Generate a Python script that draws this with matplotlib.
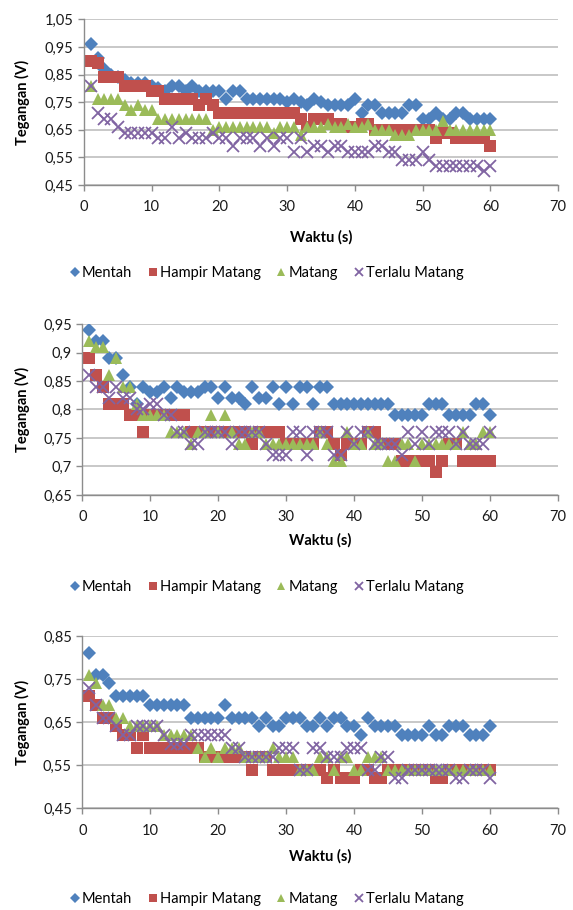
import matplotlib
matplotlib.use('Agg')
import matplotlib.pyplot as plt
from matplotlib.ticker import FuncFormatter

plt.rcParams['font.family'] = ['Lato', 'DejaVu Sans']

# waktu (s)
waktu = list(range(1, 61))

# grafik 1
mentah_1 = [0.96, 0.91, 0.87, 0.85, 0.84, 0.83, 0.82, 0.82, 0.82, 0.81,
            0.80, 0.79, 0.81, 0.81, 0.79, 0.81, 0.79, 0.79, 0.79, 0.79,
            0.76, 0.79, 0.79, 0.76, 0.76, 0.76, 0.76, 0.76, 0.76, 0.75,
            0.76, 0.75, 0.74, 0.76, 0.75, 0.74, 0.74, 0.74, 0.74, 0.76,
            0.71, 0.74, 0.74, 0.71, 0.71, 0.71, 0.71, 0.74, 0.74, 0.69,
            0.69, 0.71, 0.69, 0.69, 0.71, 0.71, 0.69, 0.69, 0.69, 0.69]
hampir_1 = [0.90, 0.89, 0.84, 0.84, 0.84, 0.81, 0.81, 0.81, 0.81, 0.79,
            0.79, 0.76, 0.76, 0.76, 0.76, 0.76, 0.74, 0.76, 0.74, 0.71,
            0.71, 0.71, 0.71, 0.71, 0.71, 0.71, 0.71, 0.71, 0.71, 0.71,
            0.71, 0.69, 0.66, 0.69, 0.69, 0.69, 0.67, 0.67, 0.66, 0.66,
            0.67, 0.67, 0.65, 0.65, 0.65, 0.65, 0.65, 0.65, 0.65, 0.65,
            0.65, 0.62, 0.64, 0.64, 0.62, 0.62, 0.62, 0.62, 0.62, 0.59]
matang_1 = [0.81, 0.76, 0.76, 0.76, 0.76, 0.74, 0.72, 0.74, 0.72, 0.72,
            0.69, 0.69, 0.69, 0.69, 0.69, 0.69, 0.69, 0.69, 0.65, 0.66,
            0.66, 0.66, 0.66, 0.66, 0.66, 0.66, 0.66, 0.64, 0.66, 0.66,
            0.66, 0.63, 0.66, 0.66, 0.66, 0.67, 0.66, 0.66, 0.67, 0.66,
            0.66, 0.67, 0.65, 0.65, 0.65, 0.63, 0.63, 0.63, 0.65, 0.65,
            0.65, 0.65, 0.68, 0.65, 0.65, 0.65, 0.65, 0.65, 0.65, 0.65]
terlalu_1 = [0.81, 0.71, 0.69, 0.69, 0.66, 0.64, 0.64, 0.64, 0.64, 0.64,
             0.62, 0.62, 0.66, 0.62, 0.64, 0.62, 0.62, 0.62, 0.64, 0.62,
             0.62, 0.59, 0.62, 0.62, 0.62, 0.59, 0.62, 0.59, 0.62, 0.62,
             0.57, 0.62, 0.57, 0.59, 0.59, 0.57, 0.59, 0.59, 0.57, 0.57,
             0.57, 0.57, 0.59, 0.59, 0.57, 0.57, 0.54, 0.54, 0.54, 0.57,
             0.54, 0.52, 0.52, 0.52, 0.52, 0.52, 0.52, 0.52, 0.50, 0.52]

# grafik 2
mentah_2 = [0.94, 0.92, 0.92, 0.89, 0.89, 0.86, 0.84, 0.81, 0.84, 0.83,
            0.83, 0.84, 0.82, 0.84, 0.83, 0.83, 0.83, 0.84, 0.84, 0.82,
            0.84, 0.82, 0.82, 0.81, 0.84, 0.82, 0.82, 0.84, 0.81, 0.84,
            0.81, 0.84, 0.84, 0.81, 0.84, 0.84, 0.81, 0.81, 0.81, 0.81,
            0.81, 0.81, 0.81, 0.81, 0.81, 0.79, 0.79, 0.79, 0.79, 0.79,
            0.81, 0.81, 0.81, 0.79, 0.79, 0.79, 0.79, 0.81, 0.81, 0.79]
hampir_2 = [0.89, 0.86, 0.84, 0.81, 0.81, 0.81, 0.79, 0.79, 0.76, 0.79,
            0.79, 0.79, 0.79, 0.79, 0.79, 0.76, 0.76, 0.76, 0.76, 0.76,
            0.76, 0.76, 0.76, 0.76, 0.74, 0.76, 0.76, 0.76, 0.76, 0.74,
            0.74, 0.74, 0.74, 0.74, 0.76, 0.76, 0.74, 0.72, 0.74, 0.74,
            0.74, 0.76, 0.76, 0.74, 0.74, 0.74, 0.71, 0.71, 0.71, 0.71,
            0.71, 0.69, 0.71, 0.74, 0.74, 0.71, 0.71, 0.71, 0.71, 0.71]
matang_2 = [0.92, 0.91, 0.91, 0.86, 0.89, 0.84, 0.84, 0.81, 0.79, 0.79,
            0.79, 0.79, 0.76, 0.76, 0.76, 0.74, 0.76, 0.76, 0.79, 0.76,
            0.79, 0.76, 0.74, 0.74, 0.76, 0.76, 0.74, 0.74, 0.74, 0.74,
            0.74, 0.74, 0.74, 0.74, 0.76, 0.74, 0.71, 0.71, 0.76, 0.74,
            0.74, 0.76, 0.74, 0.74, 0.71, 0.71, 0.74, 0.74, 0.71, 0.74,
            0.74, 0.74, 0.74, 0.74, 0.74, 0.76, 0.74, 0.74, 0.76, 0.76]
terlalu_2 = [0.86, 0.84, 0.84, 0.82, 0.84, 0.82, 0.82, 0.80, 0.80, 0.81,
             0.81, 0.79, 0.79, 0.76, 0.76, 0.74, 0.74, 0.76, 0.76, 0.76,
             0.76, 0.74, 0.76, 0.76, 0.76, 0.76, 0.74, 0.72, 0.72, 0.72,
             0.76, 0.76, 0.72, 0.76, 0.76, 0.76, 0.72, 0.72, 0.76, 0.74,
             0.76, 0.76, 0.74, 0.74, 0.74, 0.74, 0.72, 0.76, 0.74, 0.76,
             0.74, 0.76, 0.76, 0.76, 0.74, 0.76, 0.74, 0.74, 0.74, 0.76]

# grafik 3
mentah_3 = [0.81, 0.76, 0.76, 0.74, 0.71, 0.71, 0.71, 0.71, 0.71, 0.69,
            0.69, 0.69, 0.69, 0.69, 0.69, 0.66, 0.66, 0.66, 0.66, 0.66,
            0.69, 0.66, 0.66, 0.66, 0.66, 0.64, 0.66, 0.64, 0.64, 0.66,
            0.66, 0.66, 0.64, 0.64, 0.66, 0.64, 0.66, 0.66, 0.64, 0.64,
            0.62, 0.66, 0.64, 0.64, 0.64, 0.64, 0.62, 0.62, 0.62, 0.62,
            0.64, 0.62, 0.62, 0.64, 0.64, 0.64, 0.62, 0.62, 0.62, 0.64]
hampir_3 = [0.71, 0.69, 0.66, 0.66, 0.64, 0.62, 0.62, 0.59, 0.62, 0.59,
            0.59, 0.59, 0.59, 0.59, 0.59, 0.59, 0.59, 0.57, 0.57, 0.57,
            0.57, 0.57, 0.57, 0.57, 0.54, 0.57, 0.57, 0.54, 0.54, 0.54,
            0.54, 0.54, 0.54, 0.54, 0.54, 0.52, 0.54, 0.52, 0.52, 0.52,
            0.54, 0.54, 0.52, 0.52, 0.54, 0.54, 0.54, 0.54, 0.54, 0.54,
            0.54, 0.52, 0.52, 0.54, 0.54, 0.54, 0.54, 0.54, 0.54, 0.54]
matang_3 = [0.76, 0.74, 0.69, 0.69, 0.66, 0.66, 0.64, 0.64, 0.64, 0.64,
            0.64, 0.62, 0.62, 0.62, 0.62, 0.62, 0.59, 0.57, 0.59, 0.57,
            0.59, 0.59, 0.59, 0.57, 0.57, 0.57, 0.57, 0.59, 0.57, 0.57,
            0.57, 0.54, 0.54, 0.54, 0.57, 0.57, 0.54, 0.57, 0.57, 0.54,
            0.54, 0.57, 0.57, 0.57, 0.54, 0.54, 0.54, 0.54, 0.54, 0.54,
            0.54, 0.54, 0.54, 0.54, 0.54, 0.54, 0.54, 0.54, 0.54, 0.54]
terlalu_3 = [0.73, 0.69, 0.66, 0.66, 0.64, 0.62, 0.62, 0.64, 0.64, 0.64,
             0.64, 0.62, 0.60, 0.60, 0.60, 0.62, 0.62, 0.62, 0.62, 0.62,
             0.62, 0.59, 0.59, 0.57, 0.57, 0.57, 0.57, 0.57, 0.59, 0.59,
             0.59, 0.54, 0.54, 0.59, 0.59, 0.57, 0.57, 0.57, 0.59, 0.59,
             0.59, 0.54, 0.54, 0.57, 0.57, 0.52, 0.52, 0.54, 0.54, 0.54,
             0.54, 0.54, 0.54, 0.54, 0.52, 0.52, 0.54, 0.54, 0.54, 0.52]

label_seri = ['Mentah', 'Hampir Matang', 'Matang', 'Terlalu Matang']

# sumbu y tiap grafik: (min, max, langkah)
y_setting = [(0.45, 1.05, 0.1), (0.65, 0.95, 0.05), (0.45, 0.85, 0.1)]

W, H = 573, 910
fig = plt.figure(figsize=(W / 100, H / 100), dpi=100)


def koma(v, pos):
    s = ('%.2f' % v).rstrip('0').rstrip('.')
    return s.replace('.', ',')


def gambar_grafik(box, data, ysetting, y_waktu, y_legend):
    left, top, right, bottom = box
    ax = fig.add_axes([left / W, 1 - bottom / H, (right - left) / W, (bottom - top) / H])
    ymin, ymax, step = ysetting

    mentah, hampir, matang, terlalu = data
    ax.plot(waktu, mentah, 'D', color='#4F81BD', markersize=7.0, markeredgewidth=0,
            label=label_seri[0])
    ax.plot(waktu, hampir, 's', color='#C0504D', markersize=9.0, markeredgewidth=0,
            label=label_seri[1])
    ax.plot(waktu, matang, '^', color='#9BBB59', markersize=9.2, markeredgewidth=0,
            label=label_seri[2])
    ax.plot(waktu, terlalu, 'x', color='#8064A2', markersize=9.0, markeredgewidth=1.3,
            label=label_seri[3])

    ax.set_xlim(0, 70)
    ax.set_ylim(ymin, ymax)
    ax.set_xticks(range(0, 71, 10))
    n = int(round((ymax - ymin) / step))
    ax.set_yticks([ymin + i * step for i in range(n + 1)])
    ax.yaxis.set_major_formatter(FuncFormatter(koma))

    ax.grid(axis='y', color='#bfbfbf', linewidth=1.2)
    ax.set_axisbelow(True)
    for s in ['top', 'right']:
        ax.spines[s].set_visible(False)
    for s in ['left', 'bottom']:
        ax.spines[s].set_color('#8c8c8c')
        ax.spines[s].set_linewidth(1.0)
    ax.tick_params(axis='both', colors='#8c8c8c', labelcolor='#1a1a1a',
                   labelsize=10.5, length=4, width=1.0)
    ax.tick_params(axis='x', pad=7)

    fig.text((left + right) / 2 / W, 1 - y_waktu / H, 'Waktu (s)', ha='center', va='center',
             fontsize=10.5, fontweight='bold')
    fig.text(22 / W, 1 - (top + bottom) / 2 / H, 'Tegangan (V)', ha='center', va='center',
             rotation=90, fontsize=10.5, fontweight='bold')

    fig.legend(*ax.get_legend_handles_labels(), loc='center', ncol=4,
               bbox_to_anchor=(267 / W, 1 - y_legend / H), frameon=False,
               fontsize=10.5, markerscale=0.7, handlelength=0.6, handletextpad=0.2,
               columnspacing=1.1)
    return ax


gambar_grafik((84, 19.3, 558, 185), [mentah_1, hampir_1, matang_1, terlalu_1],
              y_setting[0], 237, 273)
gambar_grafik((82.3, 324, 558, 495), [mentah_2, hampir_2, matang_2, terlalu_2],
              y_setting[1], 540, 587)
gambar_grafik((82.3, 636, 558, 808.3), [mentah_3, hampir_3, matang_3, terlalu_3],
              y_setting[2], 856, 899)

fig.savefig('out.png', dpi=100)
